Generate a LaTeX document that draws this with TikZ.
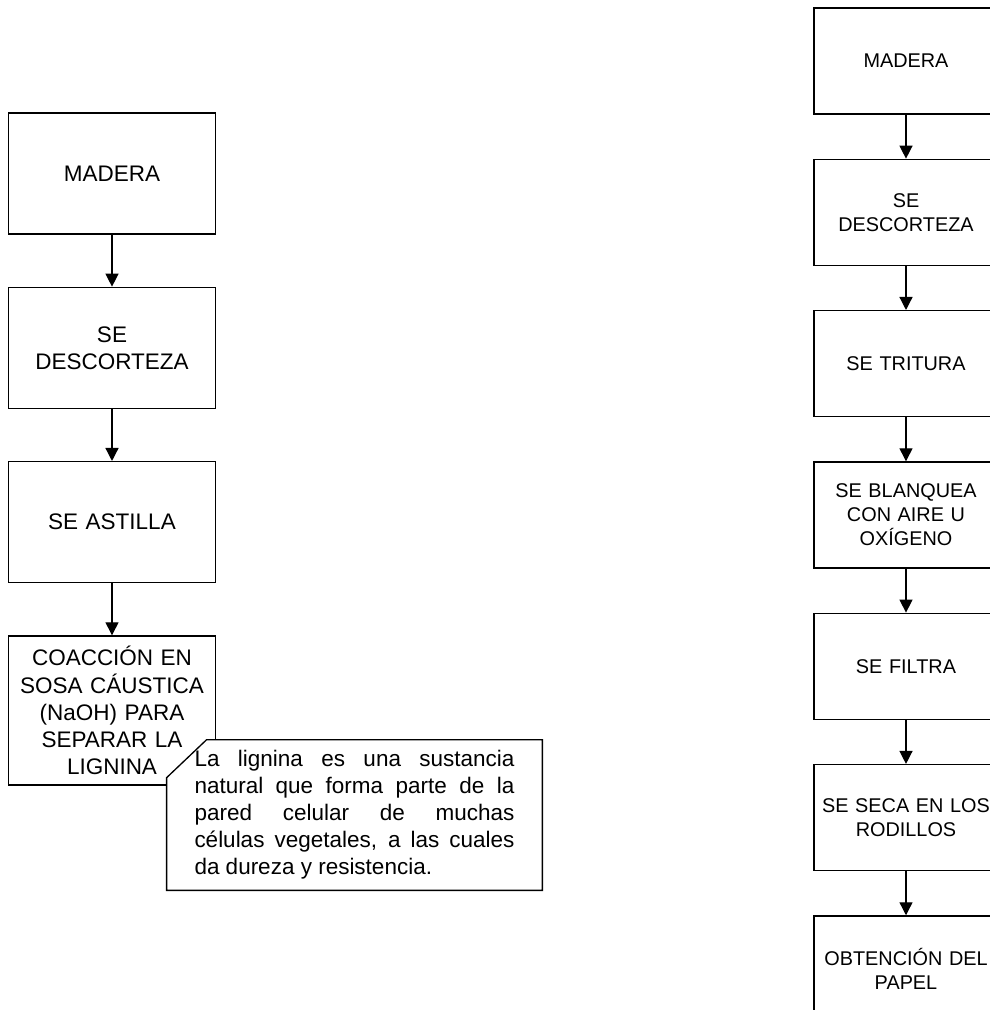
\documentclass[tikz,border=0pt]{standalone}
\usepackage{fontspec}
\setmainfont{Liberation Sans}
\usetikzlibrary{positioning, calc, arrows.meta}
\tikzstyle{pasoizq} = [rectangle, 
minimum width=4.04cm, 
minimum height=2.42cm, 
align=center, 
text width=3.9cm, 
draw=black, 
line width=0.75pt, 
fill=white]
\tikzstyle{pasoder} = [rectangle, 
minimum width=3.56cm, 
minimum height=2.12cm, 
align=center, 
text width=3.45cm, 
draw=black, 
line width=0.75pt, 
fill=white, 
font=\fontsize{11.3pt}{13.7pt}\selectfont]
\tikzstyle{nota} = [rectangle, 
minimum width=7.5cm, 
minimum height=3cm, 
inner sep=0pt]
\tikzstyle{notatexto} = [text width=6.4cm, 
align=justify]
\tikzstyle{borde} = [draw=black, line width=0.75pt, fill=white]
\tikzstyle{arrow} = [line width=0.75pt, -{Triangle[length=0.26cm, width=0.26cm]}]

\begin{document}
\begin{tikzpicture}[node distance=1.04cm, font=\fontsize{12.8pt}{15.4pt}\selectfont]
    \useasboundingbox (0,0) rectangle (19.8,-20.2);

    % Left diagram
    \node (mad1) [pasoizq] at (2.24,-3.47) {MADERA};
    \node (desc1) [pasoizq, below=of mad1] {SE\\DESCORTEZA};
    \node (ast1) [pasoizq, below=of desc1] {SE ASTILLA};
    \node (coac1) [pasoizq, below=of ast1, minimum height=2.98cm] {COACCIÓN EN\\SOSA CÁUSTICA\\(NaOH) PARA\\SEPARAR LA\\LIGNINA};

    \draw [arrow] (mad1) -- (desc1);
    \draw [arrow] (desc1) -- (ast1);
    \draw [arrow] (ast1) -- (coac1);

    % note on lignin, with its corner cut
    \node (nota1) [nota] at (7.09,-16.3) {};
    \draw [borde] ($(nota1.north west) + (0.8cm, 0)$) -- (nota1.north east) -- (nota1.south east)
        -- (nota1.south west) -- ($(nota1.north west) + (0, -0.76cm)$) -- cycle;
    \node (texto1) [notatexto] at (nota1.center) {La lignina es una sustancia\linebreak natural que forma parte de la\linebreak pared celular de muchas\linebreak células vegetales, a las cuales\linebreak da dureza y resistencia.};

    % Right diagram
    \node (mad2) [pasoder] at (18.12,-1.22) {MADERA};
    \node (desc2) [pasoder, below=0.88cm of mad2] {SE\\DESCORTEZA};
    \node (trit2) [pasoder, below=0.88cm of desc2] {SE TRITURA};
    \node (blan2) [pasoder, below=0.88cm of trit2] {SE BLANQUEA\\CON AIRE U\\OXÍGENO};
    \node (filt2) [pasoder, below=0.88cm of blan2] {SE FILTRA};
    \node (seca2) [pasoder, below=0.88cm of filt2] {SE SECA EN LOS\\RODILLOS};
    \node (obt2) [pasoder, below=0.88cm of seca2] {OBTENCIÓN DEL\\PAPEL};

    \draw [arrow] (mad2) -- (desc2);
    \draw [arrow] (desc2) -- (trit2);
    \draw [arrow] (trit2) -- (blan2);
    \draw [arrow] (blan2) -- (filt2);
    \draw [arrow] (filt2) -- (seca2);
    \draw [arrow] (seca2) -- (obt2);
\end{tikzpicture}
\end{document}
